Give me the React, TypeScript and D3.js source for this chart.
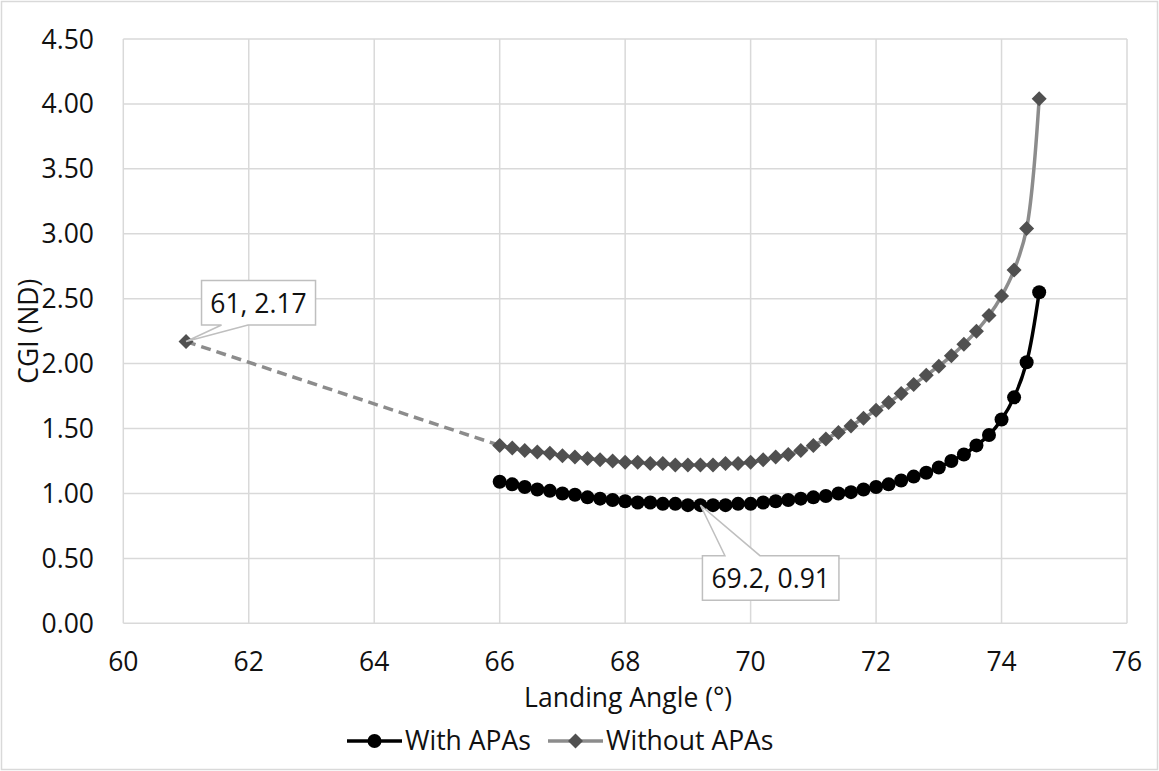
import React from "react";
import * as d3 from "d3";

const angles = [66.0, 66.2, 66.4, 66.6, 66.8, 67.0, 67.2, 67.4, 67.6, 67.8, 68.0, 68.2, 68.4, 68.6, 68.8, 69.0, 69.2, 69.4, 69.6, 69.8, 70.0, 70.2, 70.4, 70.6, 70.8, 71.0, 71.2, 71.4, 71.6, 71.8, 72.0, 72.2, 72.4, 72.6, 72.8, 73.0, 73.2, 73.4, 73.6, 73.8, 74.0, 74.2, 74.4, 74.6];
const withAPAs = [1.09, 1.07, 1.05, 1.03, 1.02, 1.00, 0.99, 0.97, 0.96, 0.95, 0.94, 0.93, 0.93, 0.92, 0.92, 0.91, 0.91, 0.91, 0.91, 0.92, 0.92, 0.93, 0.94, 0.95, 0.96, 0.97, 0.98, 1.00, 1.01, 1.03, 1.05, 1.07, 1.10, 1.13, 1.16, 1.20, 1.25, 1.30, 1.37, 1.45, 1.57, 1.74, 2.01, 2.55];
const withoutAPAs = [1.37, 1.35, 1.33, 1.32, 1.31, 1.29, 1.28, 1.27, 1.26, 1.25, 1.24, 1.24, 1.23, 1.23, 1.22, 1.22, 1.22, 1.22, 1.23, 1.23, 1.24, 1.26, 1.28, 1.30, 1.33, 1.37, 1.42, 1.47, 1.52, 1.58, 1.64, 1.70, 1.77, 1.84, 1.91, 1.98, 2.06, 2.15, 2.25, 2.37, 2.52, 2.72, 3.04, 4.04];
const withoutOutlierAngle = 61;
const withoutOutlierValue = 2.17;
const xTicks = [60, 62, 64, 66, 68, 70, 72, 74, 76];
const yTicks = [0, 0.5, 1.0, 1.5, 2.0, 2.5, 3.0, 3.5, 4.0, 4.5];
const seriesNames = ["With APAs", "Without APAs"];
const callouts = [
  { x: 61, y: 2.17, label: "61, 2.17" },
  { x: 69.2, y: 0.91, label: "69.2, 0.91" },
];

const W = 1159;
const H = 771;
const FONT = "'Open Sans', 'Noto Sans', sans-serif";
const FS = 26.5;

export default function App() {
  const x = d3.scaleLinear().domain([60, 76]).range([123.3, 1127]);
  const y = d3.scaleLinear().domain([0, 4.5]).range([623.3, 39]);

  const withPts: [number, number][] = angles.map((a, i) => [x(a), y(withAPAs[i])]);
  const withoutPts: [number, number][] = angles.map((a, i) => [x(a), y(withoutAPAs[i])]);
  const smooth = d3.line<[number, number]>().curve(d3.curveCatmullRom.alpha(0.5));
  const straight = d3.line<[number, number]>();

  const diamond = (cx: number, cy: number, r: number) =>
    `M${cx},${cy - r}L${cx + r},${cy}L${cx},${cy + r}L${cx - r},${cy}Z`;

  const grid = "#d9d9d9";
  const gray = "#8c8c8c";
  const dark = "#505050";
  const text = "#111";
  const R = 7;
  const DR = 7.5;

  const c1x = x(callouts[0].x), c1y = y(callouts[0].y);
  const b1 = { l: c1x + 15.5, r: c1x + 129.5, t: c1y - 61, b: c1y - 16.5 };
  const p1 = `M${b1.l},${b1.t}H${b1.r}V${b1.b}H${c1x + 62}L${c1x},${c1y}L${c1x + 35.5},${b1.b}H${b1.l}Z`;
  const c2x = x(callouts[1].x), c2y = y(callouts[1].y);
  const b2 = { l: c2x + 2, r: c2x + 138.5, t: c2y + 50.5, b: c2y + 95 };
  const p2 = `M${b2.l},${b2.t}H${c2x + 24.5}L${c2x},${c2y}L${c2x + 59.5},${b2.t}H${b2.r}V${b2.b}H${b2.l}Z`;

  return (
    <svg width={W} height={H} style={{ position: "absolute", left: 0, top: 0, background: "#fff" }} fontFamily={FONT}>
      <rect x={1.5} y={1.5} width={W - 3} height={H - 3} fill="#fff" stroke={grid} strokeWidth={1.5} />
      {yTicks.map((t) => (
        <line key={"gy" + t} x1={x(60)} x2={x(76)} y1={y(t)} y2={y(t)} stroke={grid} strokeWidth={1.5} />
      ))}
      {xTicks.map((t) => (
        <line key={"gx" + t} x1={x(t)} x2={x(t)} y1={y(0)} y2={y(4.5)} stroke={grid} strokeWidth={1.5} />
      ))}
      {yTicks.map((t) => (
        <text key={"ly" + t} x={94} y={y(t) + 9.5} textAnchor="end" fontSize={FS} fill={text}>
          {t.toFixed(2)}
        </text>
      ))}
      {xTicks.map((t) => (
        <text key={"lx" + t} x={x(t)} y={671} textAnchor="middle" fontSize={FS} fill={text}>
          {t}
        </text>
      ))}
      <text x={(x(60) + x(76)) / 2 + 3} y={707} textAnchor="middle" fontSize={FS} fill={text}>
        Landing Angle (°)
      </text>
      <text transform={`translate(38,${(y(0) + y(4.5)) / 2}) rotate(-90)`} textAnchor="middle" fontSize={FS} fill={text}>
        CGI (ND)
      </text>
      <path
        d={straight([[x(withoutOutlierAngle), y(withoutOutlierValue)], withoutPts[0]]) || ""}
        fill="none"
        stroke={gray}
        strokeWidth={3.5}
        strokeDasharray="10,6"
      />
      <path d={smooth(withoutPts) || ""} fill="none" stroke={gray} strokeWidth={3.5} />
      <path d={diamond(x(withoutOutlierAngle), y(withoutOutlierValue), DR)} fill={dark} />
      {withoutPts.map((p, i) => (
        <path key={"d" + i} d={diamond(p[0], p[1], DR)} fill={dark} />
      ))}
      <path d={smooth(withPts) || ""} fill="none" stroke="#000" strokeWidth={3.5} />
      {withPts.map((p, i) => (
        <circle key={"c" + i} cx={p[0]} cy={p[1]} r={R} fill="#000" />
      ))}
      <path d={p1} fill="#fff" stroke="#bfbfbf" strokeWidth={1.5} />
      <text x={(b1.l + b1.r) / 2} y={b1.b - 12.5} textAnchor="middle" fontSize={FS} fill={text}>
        {callouts[0].label}
      </text>
      <path d={p2} fill="#fff" stroke="#bfbfbf" strokeWidth={1.5} />
      <text x={(b2.l + b2.r) / 2} y={b2.b - 12.5} textAnchor="middle" fontSize={FS} fill={text}>
        {callouts[1].label}
      </text>
      <line x1={347} x2={402} y1={741} y2={741} stroke="#000" strokeWidth={3.5} />
      <circle cx={374.5} cy={741} r={R} fill="#000" />
      <text x={405} y={750} fontSize={FS} fill={text}>{seriesNames[0]}</text>
      <line x1={548} x2={603} y1={741} y2={741} stroke={gray} strokeWidth={3.5} />
      <path d={diamond(575.5, 741, DR)} fill={dark} />
      <text x={606} y={750} fontSize={FS} fill={text}>{seriesNames[1]}</text>
    </svg>
  );
}
